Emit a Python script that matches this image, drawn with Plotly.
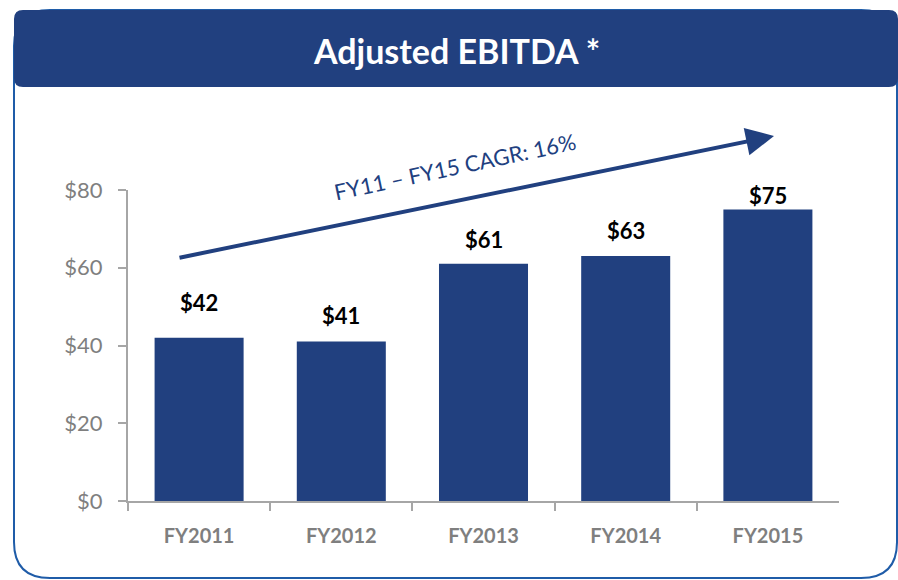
import plotly.graph_objects as go

# ---- data ----
categories = ["FY2011", "FY2012", "FY2013", "FY2014", "FY2015"]
ebitda = [42, 41, 61, 63, 75]
bar_labels = ["$42", "$41", "$61", "$63", "$75"]
y_tickvals = [0, 20, 40, 60, 80]
y_ticktext = ["$0", "$20", "$40", "$60", "$80"]
title_text = "Adjusted EBITDA *"
cagr_text = "FY11 – FY15 CAGR: 16%"

# label placement (style, in pixels above bar top)
label_shift = [35, 26, 24, 26, 14]

W, H = 898, 580
NAVY = "#21407F"
BORDER = "#1F5CA8"
GRAY_AXIS = "#A6A6A6"
GRAY_TXT = "#7F7F7F"
FONT = "Lato"


def px(x):
    return x / W


def py(y):
    return 1 - y / H


def rounded_rect(x0, y0, x1, y1, r):
    def P(x, y):
        return f"{px(x):.5f},{py(y):.5f}"
    return (
        f"M {P(x0 + r, y0)} L {P(x1 - r, y0)} Q {P(x1, y0)} {P(x1, y0 + r)} "
        f"L {P(x1, y1 - r)} Q {P(x1, y1)} {P(x1 - r, y1)} "
        f"L {P(x0 + r, y1)} Q {P(x0, y1)} {P(x0, y1 - r)} "
        f"L {P(x0, y0 + r)} Q {P(x0, y0)} {P(x0 + r, y0)} Z"
    )


fig = go.Figure()
fig.add_trace(go.Bar(
    x=categories,
    y=ebitda,
    marker=dict(color=NAVY, line=dict(width=0)),
    hoverinfo="skip",
))

annotations = [
    dict(text=title_text, xref="paper", yref="paper",
         x=px(457), y=py(50), xanchor="center", yanchor="middle",
         showarrow=False,
         font=dict(family=FONT, size=34, color="white", weight="bold")),
    dict(text="", xref="paper", yref="paper",
         x=px(774), y=py(136), axref="pixel", ayref="pixel",
         ax=178 - 774, ay=258 - 136,
         showarrow=True, arrowhead=2, arrowsize=1.4, arrowwidth=4,
         arrowcolor=NAVY, standoff=0, startstandoff=0),
    dict(text=cagr_text, xref="paper", yref="paper",
         x=px(455), y=py(167), xanchor="center", yanchor="middle",
         textangle=-12, showarrow=False,
         font=dict(family=FONT, size=22, color=NAVY)),
]
for cat, val, lab, sh in zip(categories, ebitda, bar_labels, label_shift):
    annotations.append(dict(
        text=lab, x=cat, y=val, xref="x", yref="y",
        xanchor="center", yanchor="middle", yshift=sh, showarrow=False,
        font=dict(family=FONT, size=22, color="#000000", weight="bold")))

fig.update_layout(
    width=W, height=H,
    margin=dict(l=0, r=0, t=0, b=0),
    paper_bgcolor="white",
    plot_bgcolor="white",
    showlegend=False,
    bargap=0.374,
    font=dict(family=FONT),
    xaxis=dict(
        domain=[px(128), px(839)],
        showline=True, linecolor=GRAY_AXIS, linewidth=2,
        ticks="outside", tickson="boundaries", ticklen=8,
        tickcolor=GRAY_AXIS, tickwidth=2,
        showgrid=False, zeroline=False,
        tickfont=dict(family=FONT, size=20, color=GRAY_TXT, weight="bold"),
        ticklabelstandoff=16,
        automargin=False,
    ),
    yaxis=dict(
        domain=[py(501), py(190)],
        range=[0, 80],
        showline=True, linecolor=GRAY_AXIS, linewidth=2,
        ticks="outside", ticklen=8, tickcolor=GRAY_AXIS, tickwidth=2,
        tickvals=y_tickvals, ticktext=y_ticktext,
        showgrid=False, zeroline=False,
        tickfont=dict(family=FONT, size=22, color=GRAY_TXT),
        ticklabelstandoff=11,
        automargin=False,
    ),
    shapes=[
        dict(type="path", xref="paper", yref="paper",
             path=rounded_rect(14, 10, 897, 578, 36),
             line=dict(color=BORDER, width=2), fillcolor="rgba(0,0,0,0)",
             layer="below"),
        dict(type="path", xref="paper", yref="paper",
             path=rounded_rect(14, 10, 898, 87, 9),
             line=dict(width=0), fillcolor=NAVY, layer="above"),
    ],
    annotations=annotations,
)

fig.write_html(
    "out.html",
    config={"displayModeBar": False, "staticPlot": True},
    post_script="document.body.style.margin='0';document.body.style.overflow='hidden';",
)
